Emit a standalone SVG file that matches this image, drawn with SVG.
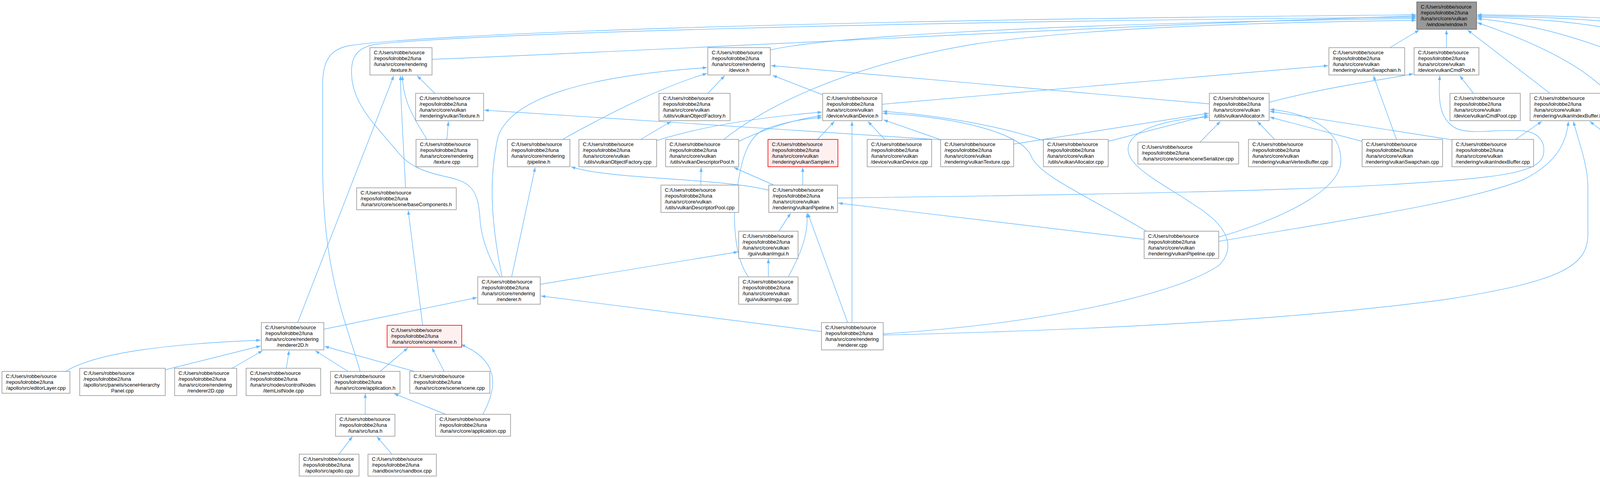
<svg xmlns="http://www.w3.org/2000/svg" width="4869" height="1224" viewBox="0 0 4869 1224">
<style>
.n rect{fill:#ffffff;stroke:#999999;stroke-width:1.6}
.n.hl rect{fill:#999999;stroke:#666666}
.n.red rect{fill:#FFF0F0;stroke:#FF0000}
.n text{font-family:"Liberation Sans",Arial,sans-serif;font-size:13px;fill:#000000}
.n .c{text-anchor:middle}
.e path{fill:none;stroke:#63B8FF;stroke-width:1.4;marker-end:url(#ah)}
</style>
<defs>
<marker id="ah" markerWidth="11" markerHeight="8" refX="11" refY="4" orient="auto" markerUnits="userSpaceOnUse"><path d="M0,0 L11,4 L0,8 z" fill="#63B8FF"/></marker>
</defs>
<rect x="0" y="0" width="4869" height="1224" fill="#ffffff"/>
<g id="edges" class="e">
<path d="M1106,152 C1800,124 3000,58 3625,41"/>
<path d="M1972,128 C2100,98 2600,62 3625,47"/>
<path d="M922,951 C885,820 826,700 826,420 L826,215 C826,150 850,123 900,116 C1100,88 2000,52 3625,38"/>
<path d="M1280,708 C1245,650 1230,600 1228,550 C1222,480 1200,465 1140,452 C1085,440 1045,425 1015,385 C960,320 902,265 900,190 C898,145 915,120 965,113 C1200,88 2200,56 3625,44"/>
<path d="M3558,122 L3633,77"/>
<path d="M3703,122 L3703,77"/>
<path d="M3968,239 L3757,77"/>
<path d="M4175,357 C4165,260 4080,160 3782,58"/>
<path d="M4117,127 C3990,80 3880,56 3782,48"/>
<path d="M4327,125 C4150,62 3950,46 3782,44"/>
<path d="M4508,124 C4300,56 4000,43 3782,41"/>
<path d="M4690,124 C4450,52 4050,40 3782,38"/>
<path d="M1853,357 C1950,280 2150,170 2500,112 C2800,70 3200,58 3625,52"/>
<path d="M2258,267 L3400,168"/>
<path d="M3249,262 C3400,222 3520,208 3618,189"/>
<path d="M3096,266 L1974,168"/>
<path d="M2107,243 L1978,193"/>
<path d="M1812,239 L1855,194"/>
<path d="M1440,357 C1560,290 1700,220 1810,188"/>
<path d="M1285,708 C1255,560 1252,450 1275,350 C1310,250 1500,195 1810,173"/>
<path d="M1640,357 L1718,311"/>
<path d="M1681,360 C1800,322 1950,300 2104,287"/>
<path d="M1891,362 C1960,330 2030,306 2104,296"/>
<path d="M1916,709 C1880,660 1875,560 1885,500 C1895,420 1910,350 1960,330 C2010,312 2060,304 2104,301"/>
<path d="M2093,357 L2136,311"/>
<path d="M2181,826 L2181,311"/>
<path d="M2265,357 L2222,311"/>
<path d="M2409,358 L2262,307"/>
<path d="M2671,360 C2550,320 2400,295 2260,285"/>
<path d="M2935,592 C2780,500 2660,450 2640,400 C2615,340 2450,300 2260,290"/>
<path d="M2408,358 L1240,282"/>
<path d="M1144,357 L1148,311"/>
<path d="M1113,239 L1068,194"/>
<path d="M1093,357 C1058,300 1032,260 1030,194"/>
<path d="M1038,481 C1034,380 1027,300 1025,194"/>
<path d="M762,826 L1008,194"/>
<path d="M1968,487 C1840,455 1560,460 1462,427"/>
<path d="M1310,708 L1370,429"/>
<path d="M1794,474 L1795,429"/>
<path d="M1981,474 L1879,429"/>
<path d="M2055,474 L2055,429"/>
<path d="M2144,507 C2700,500 3300,490 3600,470 C3850,455 3935,440 3950,400 C3958,370 3945,340 3900,335 C3830,330 3770,345 3730,330 C3690,310 3680,270 3686,194"/>
<path d="M1994,592 L2024,546"/>
<path d="M1967,709 L1967,663"/>
<path d="M2018,709 C2050,650 2070,600 2066,546"/>
<path d="M1383,728 L1889,645"/>
<path d="M2103,849 L1385,758"/>
<path d="M2170,826 L2068,546"/>
<path d="M2929,613 L2146,520"/>
<path d="M3120,607 C3250,570 3420,500 3432,420 C3440,340 3360,290 3251,280"/>
<path d="M3120,618 C3400,570 3750,520 3900,460 C3980,420 4010,370 4015,311"/>
<path d="M2261,858 C2800,845 3300,820 3700,767 C4000,720 4065,680 4065,600 L4065,480 C4065,420 4040,360 4028,311"/>
<path d="M2261,855 C2650,830 3000,760 3120,680 C3160,640 3150,590 3080,540 C2980,470 2885,430 2888,380 C2892,330 2990,305 3094,300"/>
<path d="M2595,369 L3094,290"/>
<path d="M2837,362 L3094,295"/>
<path d="M3072,364 L3124,311"/>
<path d="M3263,357 L3219,311"/>
<path d="M3487,362 L3251,300"/>
<path d="M3717,358 L3251,285"/>
<path d="M3575,357 L3516,194"/>
<path d="M3772,239 L3737,194"/>
<path d="M3880,357 L3947,311"/>
<path d="M4130,357 L4070,311"/>
<path d="M4262,239 L4237,194"/>
<path d="M4773,239 L4773,194"/>
<path d="M829,843 L1221,762"/>
<path d="M1082,833 L1045,539"/>
<path d="M168,951 C250,900 450,880 667,871"/>
<path d="M423,947 L667,886"/>
<path d="M594,943 L672,898"/>
<path d="M733,943 L740,898"/>
<path d="M891,951 L807,898"/>
<path d="M1061,951 L831,887"/>
<path d="M973,951 L1044,891"/>
<path d="M1137,951 L1106,891"/>
<path d="M1236,1061 C1280,980 1270,920 1180,882"/>
<path d="M935,1061 L935,1008"/>
<path d="M1141,1061 L1009,1008"/>
<path d="M868,1163 L902,1118"/>
<path d="M1003,1163 L965,1118"/>
</g>
<g id="window_h" class="n hl"><rect x="3627" y="5" width="153" height="70"/><text x="3637" y="21.5">C:/Users/robbe/source</text><text x="3637" y="36.5">/repos/lolrobbe2/luna</text><text x="3637" y="51.5">/luna/src/core/vulkan</text><text class="c" x="3703.5" y="66.5">/window/window.h</text></g>
<g id="texture_h" class="n"><rect x="947" y="122" width="159" height="70"/><text x="957" y="138.5">C:/Users/robbe/source</text><text x="957" y="153.5">/repos/lolrobbe2/luna</text><text x="957" y="168.5">/luna/src/core/rendering</text><text class="c" x="1026.5" y="183.5">/texture.h</text></g>
<g id="device_h" class="n"><rect x="1812" y="122" width="160" height="70"/><text x="1822" y="138.5">C:/Users/robbe/source</text><text x="1822" y="153.5">/repos/lolrobbe2/luna</text><text x="1822" y="168.5">/luna/src/core/rendering</text><text class="c" x="1892" y="183.5">/device.h</text></g>
<g id="vulkanSwapchain_h" class="n"><rect x="3402" y="122" width="194" height="70"/><text x="3412" y="138.5">C:/Users/robbe/source</text><text x="3412" y="153.5">/repos/lolrobbe2/luna</text><text x="3412" y="168.5">/luna/src/core/vulkan</text><text class="c" x="3499" y="183.5">/rendering/vulkanSwapchain.h</text></g>
<g id="vulkanCmdPool_h" class="n"><rect x="3620" y="122" width="166" height="70"/><text x="3630" y="138.5">C:/Users/robbe/source</text><text x="3630" y="153.5">/repos/lolrobbe2/luna</text><text x="3630" y="168.5">/luna/src/core/vulkan</text><text class="c" x="3703" y="183.5">/device/vulkanCmdPool.h</text></g>
<g id="windowsWindow_h" class="n"><rect x="4118" y="122" width="185" height="70"/><text x="4128" y="138.5">C:/Users/robbe/source</text><text x="4128" y="153.5">/repos/lolrobbe2/luna</text><text x="4128" y="168.5">/luna/src/core/platform</text><text class="c" x="4210.5" y="183.5">/windows/windowsWindow.h</text></g>
<g id="shader_cpp" class="n"><rect x="4327" y="122" width="159" height="70"/><text x="4337" y="138.5">C:/Users/robbe/source</text><text x="4337" y="153.5">/repos/lolrobbe2/luna</text><text x="4337" y="168.5">/luna/src/core/rendering</text><text class="c" x="4406.5" y="183.5">/shader.cpp</text></g>
<g id="vertexArray_cpp" class="n"><rect x="4509" y="122" width="159" height="70"/><text x="4519" y="138.5">C:/Users/robbe/source</text><text x="4519" y="153.5">/repos/lolrobbe2/luna</text><text x="4519" y="168.5">/luna/src/core/rendering</text><text class="c" x="4588.5" y="183.5">/vertexArray.cpp</text></g>
<g id="vulkanFeatureSupport_h" class="n"><rect x="4693" y="122" width="163" height="70"/><text x="4703" y="138.5">C:/Users/robbe/source</text><text x="4703" y="153.5">/repos/lolrobbe2/luna</text><text x="4703" y="168.5">/luna/src/core/vulkan</text><text class="c" x="4774.5" y="183.5">/vulkanFeatureSupport.h</text></g>
<g id="vulkanTexture_h" class="n"><rect x="1064" y="239" width="174" height="70"/><text x="1074" y="255.5">C:/Users/robbe/source</text><text x="1074" y="270.5">/repos/lolrobbe2/luna</text><text x="1074" y="285.5">/luna/src/core/vulkan</text><text class="c" x="1151" y="300.5">/rendering/vulkanTexture.h</text></g>
<g id="vulkanObjectFactory_h" class="n"><rect x="1687" y="239" width="182" height="70"/><text x="1697" y="255.5">C:/Users/robbe/source</text><text x="1697" y="270.5">/repos/lolrobbe2/luna</text><text x="1697" y="285.5">/luna/src/core/vulkan</text><text class="c" x="1778" y="300.5">/utils/vulkanObjectFactory.h</text></g>
<g id="vulkanDevice_h" class="n"><rect x="2106" y="239" width="152" height="70"/><text x="2116" y="255.5">C:/Users/robbe/source</text><text x="2116" y="270.5">/repos/lolrobbe2/luna</text><text x="2116" y="285.5">/luna/src/core/vulkan</text><text class="c" x="2182" y="300.5">/device/vulkanDevice.h</text></g>
<g id="vulkanAllocator_h" class="n"><rect x="3096" y="239" width="153" height="70"/><text x="3106" y="255.5">C:/Users/robbe/source</text><text x="3106" y="270.5">/repos/lolrobbe2/luna</text><text x="3106" y="285.5">/luna/src/core/vulkan</text><text class="c" x="3172.5" y="300.5">/utils/vulkanAllocator.h</text></g>
<g id="vulkanCmdPool_cpp" class="n"><rect x="3712" y="239" width="180" height="70"/><text x="3722" y="255.5">C:/Users/robbe/source</text><text x="3722" y="270.5">/repos/lolrobbe2/luna</text><text x="3722" y="285.5">/luna/src/core/vulkan</text><text class="c" x="3802" y="300.5">/device/vulkanCmdPool.cpp</text></g>
<g id="vulkanIndexBuffer_h" class="n"><rect x="3917" y="239" width="193" height="70"/><text x="3927" y="255.5">C:/Users/robbe/source</text><text x="3927" y="270.5">/repos/lolrobbe2/luna</text><text x="3927" y="285.5">/luna/src/core/vulkan</text><text class="c" x="4013.5" y="300.5">/rendering/vulkanIndexBuffer.h</text></g>
<g id="windowsWindow_cpp" class="n"><rect x="4186" y="239" width="198" height="70"/><text x="4196" y="255.5">C:/Users/robbe/source</text><text x="4196" y="270.5">/repos/lolrobbe2/luna</text><text x="4196" y="285.5">/luna/src/core/platform</text><text class="c" x="4285" y="300.5">/windows/windowsWindow.cpp</text></g>
<g id="vulkanFeatureSupport_cpp" class="n"><rect x="4686" y="239" width="176" height="70"/><text x="4696" y="255.5">C:/Users/robbe/source</text><text x="4696" y="270.5">/repos/lolrobbe2/luna</text><text x="4696" y="285.5">/luna/src/core/vulkan</text><text class="c" x="4774" y="300.5">/vulkanFeatureSupport.cpp</text></g>
<g id="texture_cpp" class="n"><rect x="1065" y="357" width="158" height="70"/><text x="1075" y="373.5">C:/Users/robbe/source</text><text x="1075" y="388.5">/repos/lolrobbe2/luna</text><text x="1075" y="403.5">/luna/src/core/rendering</text><text class="c" x="1144" y="418.5">/texture.cpp</text></g>
<g id="pipeline_h" class="n"><rect x="1299" y="357" width="160" height="70"/><text x="1309" y="373.5">C:/Users/robbe/source</text><text x="1309" y="388.5">/repos/lolrobbe2/luna</text><text x="1309" y="403.5">/luna/src/core/rendering</text><text class="c" x="1379" y="418.5">/pipeline.h</text></g>
<g id="vulkanObjectFactory_cpp" class="n"><rect x="1482" y="357" width="199" height="70"/><text x="1492" y="373.5">C:/Users/robbe/source</text><text x="1492" y="388.5">/repos/lolrobbe2/luna</text><text x="1492" y="403.5">/luna/src/core/vulkan</text><text class="c" x="1581.5" y="418.5">/utils/vulkanObjectFactory.cpp</text></g>
<g id="vulkanDescriptorPool_h" class="n"><rect x="1704" y="357" width="187" height="70"/><text x="1714" y="373.5">C:/Users/robbe/source</text><text x="1714" y="388.5">/repos/lolrobbe2/luna</text><text x="1714" y="403.5">/luna/src/core/vulkan</text><text class="c" x="1797.5" y="418.5">/utils/vulkanDescriptorPool.h</text></g>
<g id="vulkanSampler_h" class="n red"><rect x="1966" y="357" width="179" height="70"/><text x="1976" y="373.5">C:/Users/robbe/source</text><text x="1976" y="388.5">/repos/lolrobbe2/luna</text><text x="1976" y="403.5">/luna/src/core/vulkan</text><text class="c" x="2055.5" y="418.5">/rendering/vulkanSampler.h</text></g>
<g id="vulkanDevice_cpp" class="n"><rect x="2220" y="357" width="165" height="70"/><text x="2230" y="373.5">C:/Users/robbe/source</text><text x="2230" y="388.5">/repos/lolrobbe2/luna</text><text x="2230" y="403.5">/luna/src/core/vulkan</text><text class="c" x="2302.5" y="418.5">/device/vulkanDevice.cpp</text></g>
<g id="vulkanTexture_cpp" class="n"><rect x="2408" y="357" width="187" height="70"/><text x="2418" y="373.5">C:/Users/robbe/source</text><text x="2418" y="388.5">/repos/lolrobbe2/luna</text><text x="2418" y="403.5">/luna/src/core/vulkan</text><text class="c" x="2501.5" y="418.5">/rendering/vulkanTexture.cpp</text></g>
<g id="vulkanAllocator_cpp" class="n"><rect x="2671" y="357" width="166" height="70"/><text x="2681" y="373.5">C:/Users/robbe/source</text><text x="2681" y="388.5">/repos/lolrobbe2/luna</text><text x="2681" y="403.5">/luna/src/core/vulkan</text><text class="c" x="2754" y="418.5">/utils/vulkanAllocator.cpp</text></g>
<g id="sceneSerializer_cpp" class="n"><rect x="2913" y="364" width="258" height="56"/><text x="2923" y="381">C:/Users/robbe/source</text><text x="2923" y="396">/repos/lolrobbe2/luna</text><text class="c" x="3042" y="411">/luna/src/core/scene/sceneSerializer.cpp</text></g>
<g id="vulkanVertexBuffer_cpp" class="n"><rect x="3196" y="357" width="214" height="70"/><text x="3206" y="373.5">C:/Users/robbe/source</text><text x="3206" y="388.5">/repos/lolrobbe2/luna</text><text x="3206" y="403.5">/luna/src/core/vulkan</text><text class="c" x="3303" y="418.5">/rendering/vulkanVertexBuffer.cpp</text></g>
<g id="vulkanSwapchain_cpp" class="n"><rect x="3487" y="357" width="206" height="70"/><text x="3497" y="373.5">C:/Users/robbe/source</text><text x="3497" y="388.5">/repos/lolrobbe2/luna</text><text x="3497" y="403.5">/luna/src/core/vulkan</text><text class="c" x="3590" y="418.5">/rendering/vulkanSwapchain.cpp</text></g>
<g id="vulkanIndexBuffer_cpp" class="n"><rect x="3717" y="357" width="209" height="70"/><text x="3727" y="373.5">C:/Users/robbe/source</text><text x="3727" y="388.5">/repos/lolrobbe2/luna</text><text x="3727" y="403.5">/luna/src/core/vulkan</text><text class="c" x="3821.5" y="418.5">/rendering/vulkanIndexBuffer.cpp</text></g>
<g id="buffer_cpp" class="n"><rect x="4101" y="357" width="159" height="70"/><text x="4111" y="373.5">C:/Users/robbe/source</text><text x="4111" y="388.5">/repos/lolrobbe2/luna</text><text x="4111" y="403.5">/luna/src/core/rendering</text><text class="c" x="4180.5" y="418.5">/buffer.cpp</text></g>
<g id="baseComponents_h" class="n"><rect x="913" y="481" width="255" height="56"/><text x="923" y="498">C:/Users/robbe/source</text><text x="923" y="513">/repos/lolrobbe2/luna</text><text class="c" x="1040.5" y="528">/luna/src/core/scene/baseComponents.h</text></g>
<g id="vulkanDescriptorPool_cpp" class="n"><rect x="1692" y="474" width="199" height="70"/><text x="1702" y="490.5">C:/Users/robbe/source</text><text x="1702" y="505.5">/repos/lolrobbe2/luna</text><text x="1702" y="520.5">/luna/src/core/vulkan</text><text class="c" x="1791.5" y="535.5">/utils/vulkanDescriptorPool.cpp</text></g>
<g id="vulkanPipeline_h" class="n"><rect x="1968" y="474" width="176" height="70"/><text x="1978" y="490.5">C:/Users/robbe/source</text><text x="1978" y="505.5">/repos/lolrobbe2/luna</text><text x="1978" y="520.5">/luna/src/core/vulkan</text><text class="c" x="2056" y="535.5">/rendering/vulkanPipeline.h</text></g>
<g id="vulkanImgui_h" class="n"><rect x="1891" y="592" width="152" height="70"/><text x="1901" y="608.5">C:/Users/robbe/source</text><text x="1901" y="623.5">/repos/lolrobbe2/luna</text><text x="1901" y="638.5">/luna/src/core/vulkan</text><text class="c" x="1967" y="653.5">/gui/vulkanImgui.h</text></g>
<g id="vulkanPipeline_cpp" class="n"><rect x="2929" y="592" width="191" height="70"/><text x="2939" y="608.5">C:/Users/robbe/source</text><text x="2939" y="623.5">/repos/lolrobbe2/luna</text><text x="2939" y="638.5">/luna/src/core/vulkan</text><text class="c" x="3024.5" y="653.5">/rendering/vulkanPipeline.cpp</text></g>
<g id="renderer_h" class="n"><rect x="1223" y="709" width="160" height="70"/><text x="1233" y="725.5">C:/Users/robbe/source</text><text x="1233" y="740.5">/repos/lolrobbe2/luna</text><text x="1233" y="755.5">/luna/src/core/rendering</text><text class="c" x="1303" y="770.5">/renderer.h</text></g>
<g id="vulkanImgui_cpp" class="n"><rect x="1891" y="709" width="152" height="70"/><text x="1901" y="725.5">C:/Users/robbe/source</text><text x="1901" y="740.5">/repos/lolrobbe2/luna</text><text x="1901" y="755.5">/luna/src/core/vulkan</text><text class="c" x="1967" y="770.5">/gui/vulkanImgui.cpp</text></g>
<g id="renderer2D_h" class="n"><rect x="669" y="826" width="160" height="70"/><text x="679" y="842.5">C:/Users/robbe/source</text><text x="679" y="857.5">/repos/lolrobbe2/luna</text><text x="679" y="872.5">/luna/src/core/rendering</text><text class="c" x="749" y="887.5">/renderer2D.h</text></g>
<g id="scene_h" class="n red"><rect x="991" y="833" width="191" height="56"/><text x="1001" y="850">C:/Users/robbe/source</text><text x="1001" y="865">/repos/lolrobbe2/luna</text><text class="c" x="1086.5" y="880">/luna/src/core/scene/scene.h</text></g>
<g id="renderer_cpp" class="n"><rect x="2103" y="826" width="158" height="70"/><text x="2113" y="842.5">C:/Users/robbe/source</text><text x="2113" y="857.5">/repos/lolrobbe2/luna</text><text x="2113" y="872.5">/luna/src/core/rendering</text><text class="c" x="2182" y="887.5">/renderer.cpp</text></g>
<g id="editorLayer_cpp" class="n"><rect x="5" y="951" width="174" height="56"/><text x="15" y="968">C:/Users/robbe/source</text><text x="15" y="983">/repos/lolrobbe2/luna</text><text class="c" x="92" y="998">/apollo/src/editorLayer.cpp</text></g>
<g id="sceneHierarchyPanel_cpp" class="n"><rect x="204" y="943" width="219" height="70"/><text x="214" y="959.5">C:/Users/robbe/source</text><text x="214" y="974.5">/repos/lolrobbe2/luna</text><text x="214" y="989.5">/apollo/src/panels/sceneHierarchy</text><text class="c" x="313.5" y="1004.5">Panel.cpp</text></g>
<g id="renderer2D_cpp" class="n"><rect x="447" y="943" width="159" height="70"/><text x="457" y="959.5">C:/Users/robbe/source</text><text x="457" y="974.5">/repos/lolrobbe2/luna</text><text x="457" y="989.5">/luna/src/core/rendering</text><text class="c" x="526.5" y="1004.5">/renderer2D.cpp</text></g>
<g id="itemListNode_cpp" class="n"><rect x="630" y="943" width="191" height="70"/><text x="640" y="959.5">C:/Users/robbe/source</text><text x="640" y="974.5">/repos/lolrobbe2/luna</text><text x="640" y="989.5">/luna/src/nodes/controlNodes</text><text class="c" x="725.5" y="1004.5">/itemListNode.cpp</text></g>
<g id="application_h" class="n"><rect x="846" y="951" width="178" height="56"/><text x="856" y="968">C:/Users/robbe/source</text><text x="856" y="983">/repos/lolrobbe2/luna</text><text class="c" x="935" y="998">/luna/src/core/application.h</text></g>
<g id="scene_cpp" class="n"><rect x="1049" y="951" width="205" height="56"/><text x="1059" y="968">C:/Users/robbe/source</text><text x="1059" y="983">/repos/lolrobbe2/luna</text><text class="c" x="1151.5" y="998">/luna/src/core/scene/scene.cpp</text></g>
<g id="luna_h" class="n"><rect x="859" y="1061" width="152" height="56"/><text x="869" y="1078">C:/Users/robbe/source</text><text x="869" y="1093">/repos/lolrobbe2/luna</text><text class="c" x="935" y="1108">/luna/src/luna.h</text></g>
<g id="application_cpp" class="n"><rect x="1115" y="1061" width="192" height="56"/><text x="1125" y="1078">C:/Users/robbe/source</text><text x="1125" y="1093">/repos/lolrobbe2/luna</text><text class="c" x="1211" y="1108">/luna/src/core/application.cpp</text></g>
<g id="apollo_cpp" class="n"><rect x="766" y="1163" width="153" height="56"/><text x="776" y="1180">C:/Users/robbe/source</text><text x="776" y="1195">/repos/lolrobbe2/luna</text><text class="c" x="842.5" y="1210">/apollo/src/apollo.cpp</text></g>
<g id="sandbox_cpp" class="n"><rect x="942" y="1163" width="175" height="56"/><text x="952" y="1180">C:/Users/robbe/source</text><text x="952" y="1195">/repos/lolrobbe2/luna</text><text class="c" x="1029.5" y="1210">/sandbox/src/sandbox.cpp</text></g>
</svg>
